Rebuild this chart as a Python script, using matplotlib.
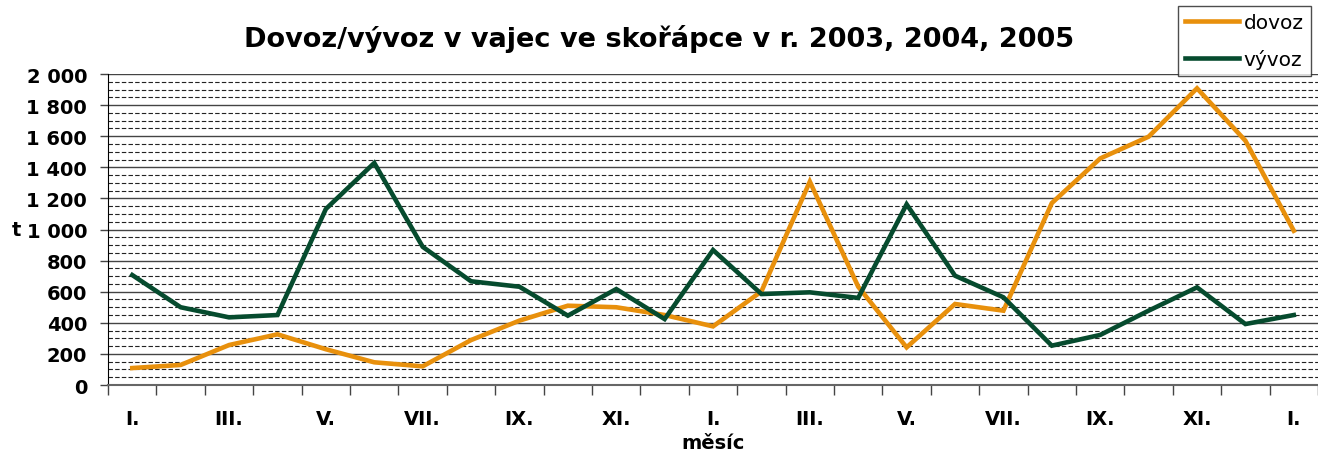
import matplotlib.pyplot as plt
import numpy as np
from matplotlib.ticker import FuncFormatter, MultipleLocator

# měsíce I.2003 – I.2005
mesice = ['I.', 'II.', 'III.', 'IV.', 'V.', 'VI.', 'VII.', 'VIII.', 'IX.', 'X.', 'XI.', 'XII.'] * 2 + ['I.']

dovoz = [109, 129, 257, 326, 230, 146, 120, 289, 414, 510, 500, 450,
         377, 602, 1308, 632, 242, 521, 478, 1170, 1457, 1597, 1908, 1571, 992]
vyvoz = [707, 500, 435, 450, 1132, 1428, 889, 667, 632, 446, 617, 424,
         868, 585, 596, 560, 1162, 703, 564, 253, 322, 478, 628, 392, 450]

plt.rcParams['font.family'] = ['DejaVu Sans']

fig = plt.figure(figsize=(13.18, 4.56), dpi=100)
ax = fig.add_axes([0.082, 0.1535, 0.918, 0.682])

x = np.arange(len(mesice))
ax.plot(x, dovoz, color='#E8900C', lw=3.3, label='dovoz', solid_joinstyle='miter')
ax.plot(x, vyvoz, color='#064B2E', lw=3.3, label='vývoz', solid_joinstyle='miter')

ax.set_xlim(-0.5, len(mesice) - 0.5)
ax.set_ylim(0, 2000)

# mřížka
ax.yaxis.set_major_locator(MultipleLocator(200))
ax.yaxis.set_minor_locator(MultipleLocator(50))
ax.grid(True, which='major', axis='y', color='#444444', lw=1.0)
ax.grid(True, which='minor', axis='y', color='#222222', lw=0.8, ls=(0, (4, 2)))
ax.set_axisbelow(True)
ax.tick_params(axis='y', which='minor', length=0)

ax.yaxis.set_major_formatter(FuncFormatter(lambda v, p: f'{int(v):,}'.replace(',', ' ')))

# popisky osy x jen každý druhý měsíc, čárky mezi kategoriemi
ax.set_xticks(x[::2])
ax.set_xticklabels(mesice[::2])
ax.set_xticks(np.arange(-0.5, len(mesice), 1), minor=True)
ax.tick_params(axis='x', which='major', length=0, pad=17)
ax.tick_params(axis='x', which='minor', length=7, width=1, color='#444444')
ax.tick_params(axis='y', which='major', length=6, width=1, color='#444444', pad=9)

for lab in ax.get_xticklabels() + ax.get_yticklabels():
    lab.set_fontweight('bold')
    lab.set_fontsize(14)

for s in ['top', 'right']:
    ax.spines[s].set_visible(False)
ax.spines['left'].set_color('black')
ax.spines['bottom'].set_color('#666666')
ax.spines['bottom'].set_linewidth(1.5)

ax.set_xlabel('měsíc', fontsize=14, fontweight='bold', labelpad=4)
ax.set_ylabel('t', fontsize=14, fontweight='bold', rotation=0, labelpad=7, va='center')

fig.text(0.5, 0.915, 'Dovoz/vývoz v vajec ve skořápce v r. 2003, 2004, 2005',
         ha='center', va='center', fontsize=19.5, fontweight='bold')

leg = ax.legend(loc='upper left', bbox_to_anchor=(1178 / 1318, 449 / 456), bbox_transform=fig.transFigure,
                fontsize=14.5, frameon=True, fancybox=False, handlelength=2.7, handletextpad=0.2,
                borderpad=0.35, labelspacing=0.85, borderaxespad=0)
leg.get_frame().set_edgecolor('#222222')
leg.get_frame().set_linewidth(1)

fig.savefig('out.png', dpi=100)
